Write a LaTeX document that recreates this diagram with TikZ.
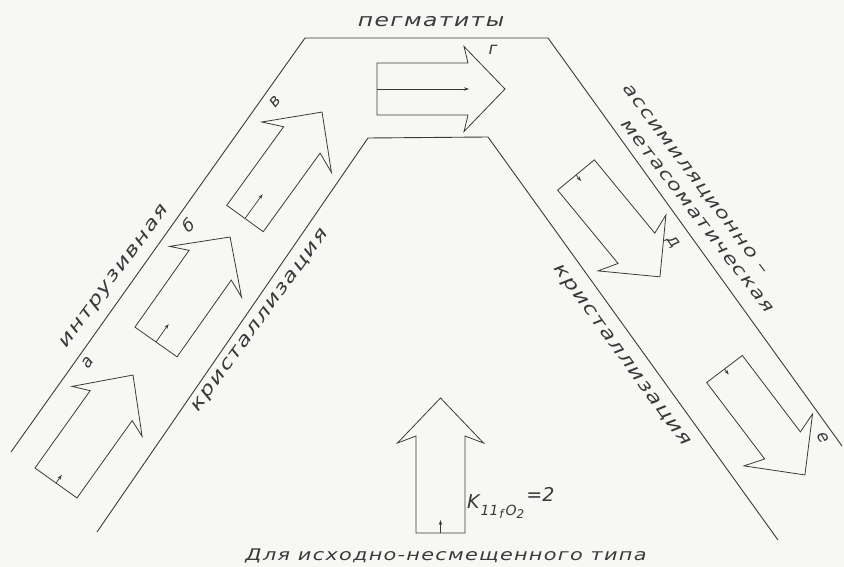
\documentclass[tikz,border=0pt]{standalone}
\usepackage{fontspec}
\setmainfont{DejaVu Sans}
\newfontfamily\lab{DejaVu Sans Oblique}[FakeStretch=1.3,LetterSpace=8]
\newfontfamily\obl{DejaVu Sans Oblique}
\usetikzlibrary{arrows.meta}
\definecolor{ink}{HTML}{3A3A3A}
\definecolor{paper}{HTML}{F7F7F5}
\newcommand\sz[1]{\fontsize{#1}{#1}\selectfont}
% #1 x, #2 y, #3 angle, #4 half shaft width, #5 shaft length, #6 barb position, #7 barb half width, #8 tip, #9 tick length
\newcommand{\barrow}[9]{%
  \begin{scope}[shift={(#1,#2)}, rotate=#3]
    \draw[blk] (0,-#4) -- (#5,-#4) -- (#6,-#7) -- (#8,0) -- (#6,#7) -- (#5,#4) -- (0,#4) -- cycle;
    \draw[tickarrow] (0,0) -- (#9,0);
  \end{scope}}
\begin{document}
\begin{tikzpicture}[x=1pt,y=-1pt,line join=miter,
  chan/.style={draw=ink,line width=0.9pt},
  blk/.style={draw=ink,line width=0.8pt},
  tickarrow/.style={draw=ink,line width=0.7pt,-{Stealth[length=5pt,width=3.4pt]}},
  lbl/.style={text=ink,font=\lab\sz{18},inner sep=0pt},
  lbls/.style={text=ink,font=\lab\sz{17},inner sep=0pt},
  ltr/.style={text=ink,font=\obl\sz{17},inner sep=0pt},
  kl/.style={text=ink,font=\obl,inner sep=0pt}]
\fill[paper] (0,0) rectangle (844,567);
\useasboundingbox (0,0) rectangle (844,567);
% channel borders
\coordinate (o1) at (11,452);
\coordinate (o2) at (305,38);
\coordinate (o3) at (548,38);
\coordinate (o4) at (842,446);
\coordinate (i1) at (97,532);
\coordinate (i2) at (368,138);
\coordinate (i3) at (488,137);
\coordinate (i4) at (778,540);
\draw[chan] (o1) -- (o2) -- (o3) -- (o4);
\draw[chan] (i1) -- (i2) -- (i3) -- (i4);
% block arrows
\barrow{56}{483}{54.5}{25.8}{95}{88}{43}{132.6}{10}
\barrow{156}{342}{54.8}{25.8}{94}{86}{44}{128.5}{22}
\barrow{245}{218.5}{54.1}{22.5}{97}{88}{43}{131.4}{30}
\barrow{377}{89}{0}{26}{91}{87}{42.5}{128}{92}
\barrow{576}{175}{-50.5}{23.8}{95}{88}{44}{132}{8}
\barrow{724.5}{369}{-52.8}{22.4}{96}{89}{43}{133}{7}
\barrow{440.5}{533}{90}{24.5}{97}{90}{43}{135}{13}
% letters
\node[ltr,rotate=54] (la) at (88,363) {а};
\node[ltr,rotate=40] (lb) at (188,225) {б};
\node[ltr,rotate=50] (lv) at (275,102) {в};
\node[ltr] (lg) at (493,50) {г};
\node[ltr,rotate=-54] (ld) at (673,242) {д};
\node[ltr,rotate=-60] (le) at (823,438) {е};
% texts
\node[lbl,rotate=53.5] (intr) at (115,277) {интрузивная};
\node[lbl,rotate=54] (kr1) at (261,321) {кристаллизация};
\node[lbl,rotate=-54] (kr2) at (621,356) {кристаллизация};
\node[lbls,rotate=-53.2] (as1) at (695,180) {ассимиляционно –};
\node[lbls,rotate=-52.4] (as2) at (697,216) {метасоматическая};
\node[lbl,anchor=base] (peg) at (431,27) {пегматиты};
\node[text=ink,font=\lab\sz{16},inner sep=0pt,anchor=base] (bot) at (446,560) {Для исходно-несмещенного типа};
\node[kl,anchor=base west] (kk) at (467,508) {\sz{19}K\hspace{1pt}\raisebox{-7pt}{\sz{14}11\hspace{1pt}\raisebox{-3pt}{\sz{12}f}\hspace{2pt}O\raisebox{-3pt}{\sz{12}2}}\hspace{2pt}\raisebox{7pt}{\sz{19}=2}};
\end{tikzpicture}
\end{document}
